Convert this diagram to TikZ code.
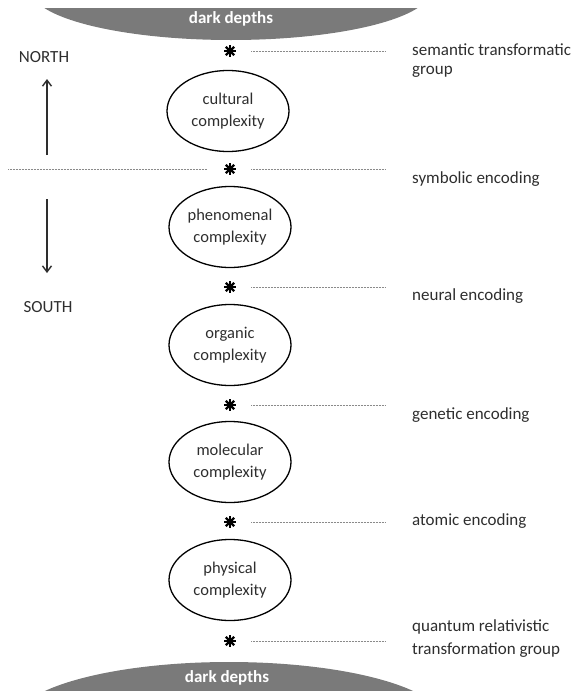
\documentclass[tikz,border=0pt]{standalone}
\usepackage{fontspec}
\setmainfont{Carlito}
\usetikzlibrary{shapes.geometric,arrows.meta}
\definecolor{depth}{HTML}{7A7A7A}
\definecolor{dots}{HTML}{8A8A8A}
\definecolor{ink}{HTML}{2E2E2E}
\begin{document}
\begin{tikzpicture}[x=1pt,y=-1pt,
  lbl/.style={text=ink, font=\fontsize{17}{20}\selectfont, inner sep=0pt, anchor=west, align=left},
  level/.style={ellipse, draw, line width=1.3pt, minimum width=122pt, minimum height=81pt,
    text=ink, font=\fontsize{16.5}{22}\selectfont, align=center, inner sep=0pt},
  starmark/.style={circle, minimum size=13pt, inner sep=0pt,
    path picture={
      \foreach \a in {0,45,90,135}{
        \draw[line width=2.2pt, line cap=butt]
          ([shift={(\a:6pt)}]path picture bounding box.center) --
          ([shift={(\a+180:6pt)}]path picture bounding box.center);}
      \fill (path picture bounding box.center) circle (2.6pt);}},
  dotline/.style={dots, line width=0.9pt, dash pattern=on 0.6pt off 0.9pt},
  dirarrow/.style={-{Straight Barb[length=6pt,width=9pt,line width=1.4pt]}, line width=1.4pt, ink},
  depthtext/.style={white, font=\bfseries\fontsize{17}{20}\selectfont}]
\useasboundingbox (0,0) rectangle (576,691);
\begin{scope}
\clip (0,8) rectangle (576,691);
% dark depths above and below
\fill[depth] (231,-10) ellipse (200 and 50);
\fill[depth] (229,722) ellipse (215 and 60);
\end{scope}
\node[depthtext] (topdepth) at (231,19) {dark depths};
\node[depthtext] (botdepth) at (227,678) {dark depths};

% levels of complexity
\node[level] (cult) at (228,111) {cultural\\complexity};
\node[level] (phen) at (230,227) {phenomenal\\complexity};
\node[level] (org)  at (230,345) {organic\\complexity};
\node[level] (mol)  at (230,462) {molecular\\complexity};
\node[level] (phys) at (230,580) {physical\\complexity};

% transitions
\foreach \n/\y in {s1/51, s2/169, s3/287, s4/405, s5/522, s6/641}{
  \node[starmark] (\n) at (230,\y) {};
  \coordinate (\n a) at (251,\y);
  \coordinate (\n b) at (385,\y);
  \draw[dotline] (\n a) -- (\n b);
}
\coordinate (s2l) at (8,169);
\coordinate (s2r) at (207,169);
\draw[dotline] (s2l) -- (s2r);

% encoding labels
\node[lbl] (l1) at (412,50) {semantic transformatic};
\node[lbl] (l1b) at (412,72) {group};
\node[lbl] (l2) at (412,179) {symbolic encoding};
\node[lbl] (l3) at (412,296) {neural encoding};
\node[lbl] (l4) at (412,415) {genetic encoding};
\node[lbl] (l5) at (412,521) {atomic encoding};
\node[lbl] (l6) at (412,627) {quantum relativistic};
\node[lbl] (l6b) at (412,650) {transformation group};

% directions
\node[lbl, anchor=center] (north) at (44,57) {NORTH};
\node[lbl, anchor=center] (south) at (48,307) {SOUTH};
\coordinate (na) at (47,155);
\coordinate (nb) at (47,79);
\coordinate (sa) at (47,199);
\coordinate (sb) at (47,273);
\draw[dirarrow] (na) -- (nb);
\draw[dirarrow] (sa) -- (sb);
\end{tikzpicture}
\end{document}
